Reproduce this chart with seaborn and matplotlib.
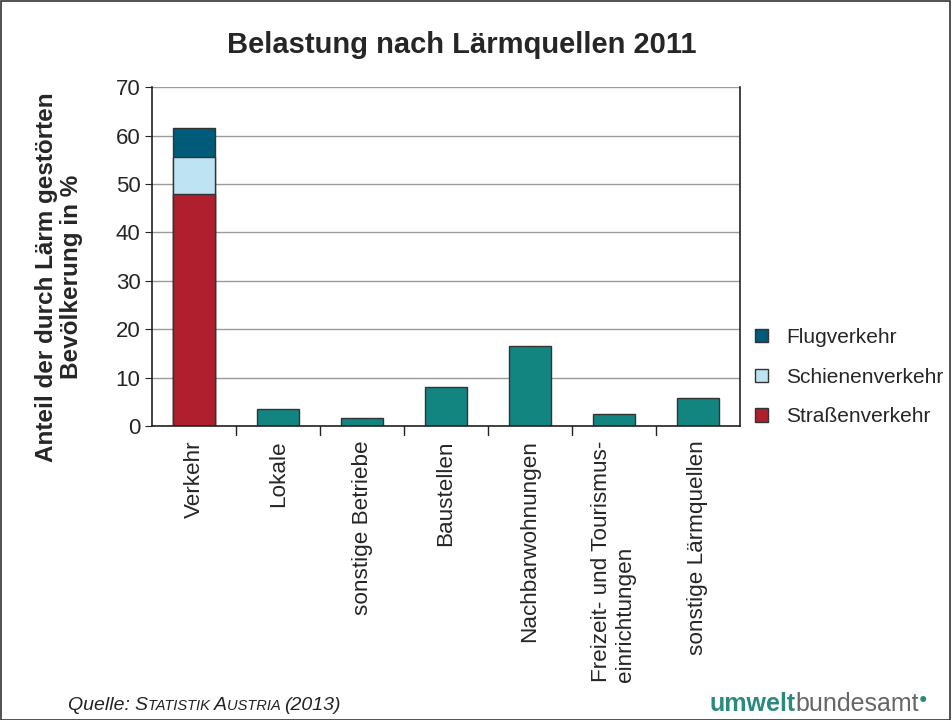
import numpy as np
import pandas as pd
import matplotlib.pyplot as plt
import seaborn as sns
from matplotlib.offsetbox import TextArea, HPacker, AnchoredOffsetbox

# ── Data ──────────────────────────────────────────────
categories = ['Verkehr', 'Lokale', 'sonstige Betriebe', 'Baustellen',
              'Nachbarwohnungen', 'Freizeit- und Tourismus-\neinrichtungen',
              'sonstige Lärmquellen']
strasse = [48.0]
schiene = [7.5]
flug = [6.0]
other_values = [3.5, 1.7, 8.0, 16.5, 2.5, 5.8]

c_strasse = '#B01F2E'
c_schiene = '#BEE3F2'
c_flug = '#005A7A'
c_teal = '#138581'

sns.set_style('white')
plt.rcParams['font.family'] = ['Liberation Sans', 'DejaVu Sans']

fig = plt.figure(figsize=(9.52, 7.2), dpi=100)
ax = fig.add_axes([0.160, 0.408, 0.617, 0.471])

verkehr = pd.DataFrame({'cat': ['Verkehr'],
                        'flug': np.array(strasse) + np.array(schiene) + np.array(flug),
                        'schiene': np.array(strasse) + np.array(schiene),
                        'strasse': strasse})
others = pd.DataFrame({'cat': categories[1:], 'val': other_values})

kw = dict(order=categories, width=0.5, saturation=1, edgecolor='#333333', linewidth=1, ax=ax)
sns.barplot(data=verkehr, x='cat', y='flug', color=c_flug, label='Flugverkehr', **kw)
sns.barplot(data=verkehr, x='cat', y='schiene', color=c_schiene, label='Schienenverkehr', **kw)
sns.barplot(data=verkehr, x='cat', y='strasse', color=c_strasse, label='Straßenverkehr', **kw)
sns.barplot(data=others, x='cat', y='val', color=c_teal, **kw)

ax.set_ylim(0, 70)
ax.set_xlim(-0.5, len(categories) - 0.5)
ax.set_yticks(range(0, 71, 10))
ax.yaxis.grid(True, color='#9a9a9a', linewidth=1)
ax.set_axisbelow(True)
for s in ['left', 'bottom', 'right']:
    ax.spines[s].set_visible(True)
    ax.spines[s].set_color('#222222')
    ax.spines[s].set_linewidth(1.2)
ax.spines['top'].set_visible(False)

ax.tick_params(axis='y', labelsize=16, length=5, direction='out', left=True, color='#222222')
ax.set_xticks(range(len(categories)))
ax.set_xticklabels(categories, rotation=90, fontsize=16.2, va='top', ha='center',
                   multialignment='left')
ax.tick_params(axis='x', length=0, pad=10)
# boundary ticks between categories
for xb in np.arange(0.5, len(categories) - 0.5, 1):
    ax.plot([xb, xb], [0, -0.025], transform=ax.get_xaxis_transform(),
            color='#222222', linewidth=1, clip_on=False)
ax.set_xlabel('')
ax.set_ylabel('Anteil der durch Lärm gestörten\nBevölkerung in %', fontsize=17.5,
              fontweight='bold', linespacing=1.1)
ax.yaxis.set_label_coords(-0.118, 0.44)

fig.text(0.485, 0.937, 'Belastung nach Lärmquellen 2011', ha='center', va='center',
         fontsize=21, fontweight='bold')

handles, labels = ax.get_legend_handles_labels()
leg = ax.legend(handles, labels, loc='center left', bbox_to_anchor=(1.012, 0.145),
                frameon=False, fontsize=15, handlelength=0.6, handleheight=0.6,
                handletextpad=0.9, labelspacing=1.0, borderaxespad=0)

# source line with small caps look
src_parts = [('Quelle: ', 14), ('S', 14), ('TATISTIK ', 10.5), ('A', 14), ('USTRIA ', 10.5), ('(2013)', 14)]
src_box = HPacker(children=[TextArea(t, textprops=dict(style='italic', fontsize=fs, color='#222222'))
                            for t, fs in src_parts], align='baseline', pad=0, sep=0)
fig.add_artist(AnchoredOffsetbox(loc='lower left', child=src_box, frameon=False,
                                 bbox_to_anchor=(0.071, 0.008), bbox_transform=fig.transFigure,
                                 borderpad=0, pad=0))

logo_box = HPacker(children=[
    TextArea('umwelt', textprops=dict(fontsize=18, fontweight='bold', color='#2b8a80')),
    TextArea('bundesamt', textprops=dict(fontsize=18, color='#666666')),
    TextArea('●', textprops=dict(fontsize=10, color='#2b8a80')),
], align='top', pad=0, sep=0)
fig.add_artist(AnchoredOffsetbox(loc='lower left', child=logo_box, frameon=False,
                                 bbox_to_anchor=(0.745, 0.005), bbox_transform=fig.transFigure,
                                 borderpad=0, pad=0))

fig.patches.append(plt.Rectangle((0.001, 0.0), 0.997, 0.998, transform=fig.transFigure,
                                 fill=False, edgecolor='#333333', linewidth=1.2))

fig.savefig('out.png', dpi=100)
